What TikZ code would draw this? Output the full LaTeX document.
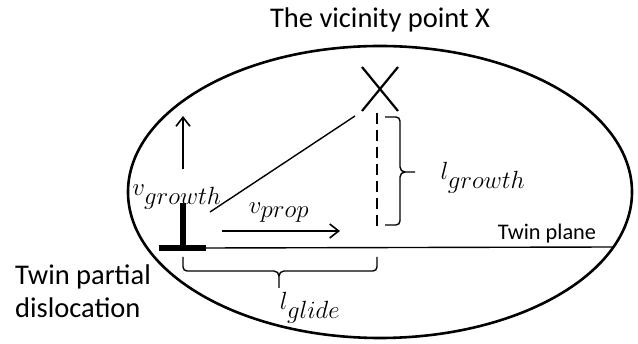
\documentclass[tikz,border=0pt]{standalone}
\usepackage{fontspec}
\setmainfont{Carlito}
\usetikzlibrary{arrows.meta}
\begin{document}
\begin{tikzpicture}[x=1pt,y=-1pt,
  txt/.style={inner sep=0pt,font=\fontsize{28.5}{34}\selectfont},
  mathlbl/.style={inner sep=0pt,font=\fontsize{39}{44}\selectfont},
  thinline/.style={line width=1.4pt},
  arr/.style={line width=1.6pt,-{Straight Barb[length=9pt,width=14pt,line width=1.6pt]}},
  bar/.style={line width=6pt}]
\useasboundingbox (0,0) rectangle (638,344);
% ellipse
\coordinate (ec) at (380,192);
\draw[line width=2.6pt] (ec) ellipse [x radius=252, y radius=146];
% title
\node[txt,anchor=base] (title) at (380,28) {The vicinity point X};
% X mark
\coordinate (xc) at (380,89);
\draw[line width=2.2pt] (362,67) -- (398,111) (398,67) -- (362,111);
% dashed vertical line
\coordinate (dtop) at (377,113);
\coordinate (dbot) at (377,228);
\draw[line width=2pt,dash pattern=on 11pt off 6pt] (dtop) -- (dbot);
% diagonal
\coordinate (dg1) at (210,212);
\coordinate (dg2) at (355,116);
\draw[thinline] (dg1) -- (dg2);
% dislocation symbol
\coordinate (dv1) at (183,203);
\coordinate (dv2) at (183,250);
\coordinate (dh1) at (159,248);
\coordinate (dh2) at (206,248);
\draw[bar] (dv1) -- (dv2);
\draw[bar] (dh1) -- (dh2);
% twin plane
\coordinate (tp) at (613,247);
\draw[thinline] (dh2) -- (tp);
\node[inner sep=0pt,font=\fontsize{22.3}{26}\selectfont,anchor=base] (tplabel) at (547,240) {Twin plane};
% v_prop
\coordinate (vp1) at (222,231);
\coordinate (vp2) at (340,231);
\draw[arr] (vp1) -- (vp2);
\node[mathlbl,anchor=base] (vplabel) at (279,214) {$v_{prop}$};
% v_growth
\coordinate (vg1) at (183,169);
\coordinate (vg2) at (183,116);
\draw[arr] (vg1) -- (vg2);
\node[mathlbl,anchor=base] (vglabel) at (177,196) {$v_{growth}$};
% right brace
\draw[thinline] (385,117) -- (396,117) to[out=0,in=90] (400,121) -- (400,167)
  to[out=-90,in=180] (405,172) -- (415,172)
  (405,172) to[out=180,in=90] (400,177) -- (400,221) to[out=-90,in=0] (396,225) -- (385,225);
\node[mathlbl,anchor=base] (lglabel) at (483,180) {$l_{growth}$};
% bottom brace
\draw[thinline] (183,257) -- (183,267) to[out=-90,in=180] (187,271) -- (274,271)
  to[out=0,in=90] (279,276) -- (279,288)
  (279,276) to[out=90,in=180] (284,271) -- (373,271) to[out=0,in=-90] (377,267) -- (377,257);
\node[mathlbl,anchor=base] (lglide) at (310,310) {$l_{glide}$};
% left label
\node[txt,anchor=base west,align=left] (tpd1) at (15,285) {Twin partial};
\node[txt,anchor=base west,align=left] (tpd2) at (15,318) {dislocation};
\end{tikzpicture}
\end{document}
